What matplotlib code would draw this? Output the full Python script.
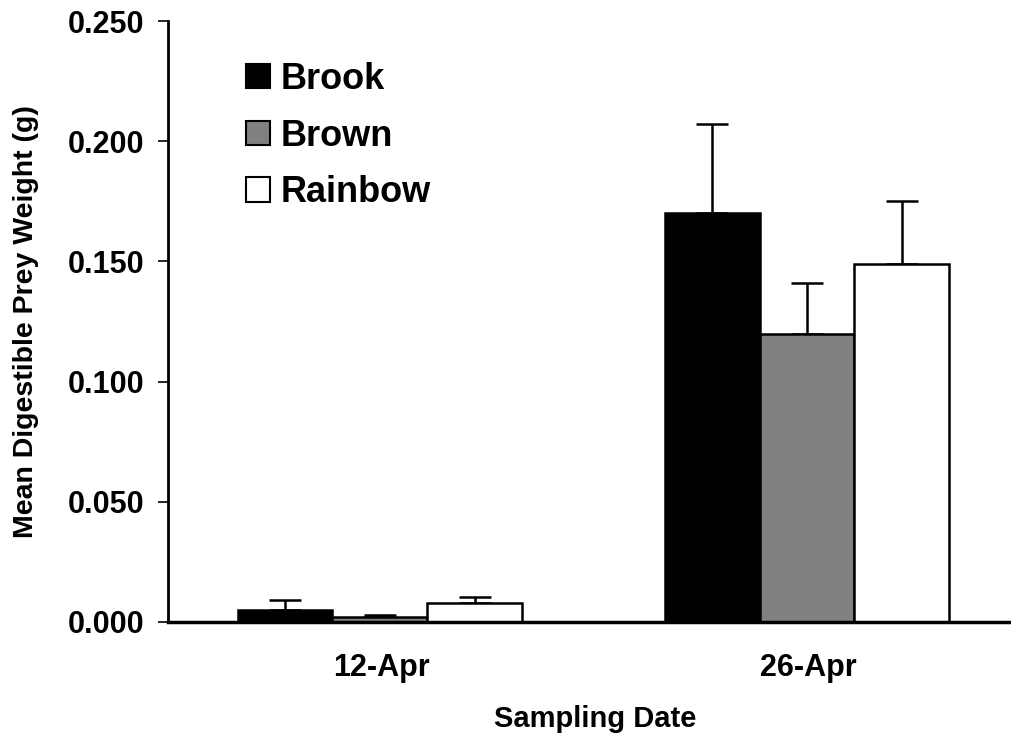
import matplotlib
matplotlib.use('Agg')
import matplotlib.pyplot as plt
import numpy as np
from matplotlib.ticker import FormatStrFormatter

# 字体设置：Arial 的替代品。
plt.rcParams['font.family'] = ['Liberation Sans', 'DejaVu Sans']
plt.rcParams['font.weight'] = 'bold'
plt.rcParams['axes.labelweight'] = 'bold'

# 数据。
dates = ['12-Apr', '26-Apr']
species = ['Brook', 'Brown', 'Rainbow']
brook = [0.005, 0.170]
brown = [0.002, 0.120]
rainbow = [0.008, 0.149]
brook_err = [0.004, 0.037]
brown_err = [0.001, 0.021]
rainbow_err = [0.0025, 0.026]

values = [brook, brown, rainbow]
errors = [brook_err, brown_err, rainbow_err]
colors = ['#000000', '#808080', '#ffffff']

fig = plt.figure(figsize=(10.11, 7.43), dpi=100)
ax = fig.add_axes([0.1662, 0.1629, 0.845, 0.8088])

x = np.arange(len(dates))
w = 0.222
for i in range(len(species)):
    ax.bar(x + (i - 1) * w - 0.004, values[i], w, color=colors[i],
           edgecolor='black', linewidth=1.8, label=species[i], zorder=2,
           yerr=[np.zeros(len(dates)), errors[i]],
           error_kw=dict(ecolor='black', elinewidth=1.8, capsize=11.5,
                         capthick=1.8, zorder=1))

ax.set_xlim(-0.5, 1.5)
ax.set_ylim(0, 0.25)
ax.set_yticks(np.arange(0, 0.2501, 0.05))
ax.yaxis.set_major_formatter(FormatStrFormatter('%.3f'))
ax.set_xticks(x)
ax.set_xticklabels(dates)

ax.spines['top'].set_visible(False)
ax.spines['right'].set_visible(False)
ax.spines['left'].set_linewidth(2)
ax.spines['bottom'].set_linewidth(2.5)

ax.tick_params(axis='y', direction='out', length=7, width=1.2, pad=10,
               labelsize=22)
ax.tick_params(axis='x', length=0, pad=22, labelsize=22)

ax.set_ylabel('Mean Digestible Prey Weight (g)', fontsize=20.5)
ax.set_xlabel('Sampling Date', fontsize=21)
ax.yaxis.set_label_coords(-0.151, 0.5)
ax.xaxis.set_label_coords(0.5, -0.138)

leg = ax.legend(loc='upper left', bbox_to_anchor=(0.07, 0.962),
                frameon=False, fontsize=26, handlelength=0.66,
                handleheight=0.66, handletextpad=0.3, labelspacing=0.6,
                borderpad=0)
for h in leg.legend_handles:
    h.set_linewidth(1.5)

fig.savefig('out.png', dpi=100)
